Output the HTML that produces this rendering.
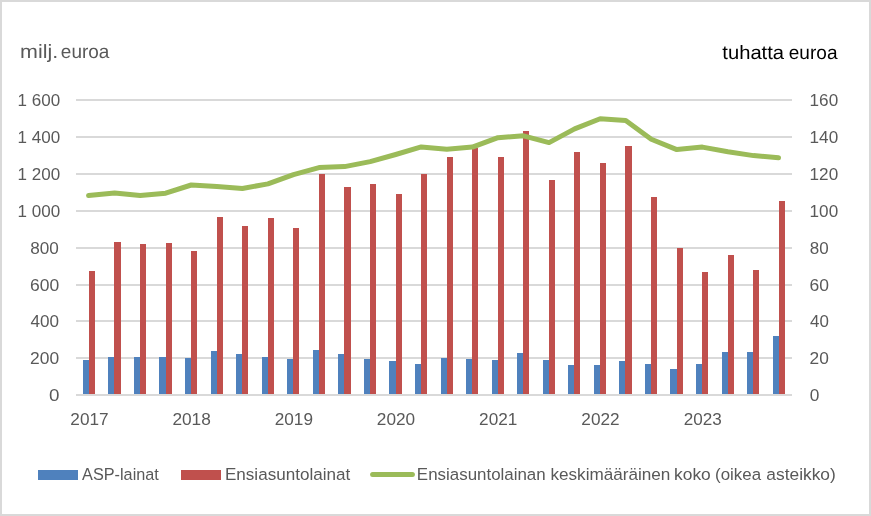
<!DOCTYPE html>
<html lang="fi">
<head>
<meta charset="utf-8">
<title>Ensiasuntolainat</title>
<style>
html,body{margin:0;padding:0;background:#ffffff;}
body{width:871px;height:516px;overflow:hidden;}
svg{display:block;}
text{white-space:pre;}
.u{text-rendering:geometricPrecision;}
</style>
</head>
<body>
<svg width="871" height="516" viewBox="0 0 871 516">
<rect x="0" y="0" width="871" height="516" fill="#ffffff"/>
<rect x="1" y="1" width="869" height="514" fill="none" stroke="#D9D9D9" stroke-width="2" shape-rendering="crispEdges"/>
<g fill="#D9D9D9" shape-rendering="crispEdges">
<rect x="76" y="357" width="716" height="2"/>
<rect x="76" y="320" width="716" height="2"/>
<rect x="76" y="284" width="716" height="2"/>
<rect x="76" y="247" width="716" height="2"/>
<rect x="76" y="210" width="716" height="2"/>
<rect x="76" y="173" width="716" height="2"/>
<rect x="76" y="136" width="716" height="2"/>
<rect x="76" y="99" width="716" height="2"/>
</g>
<g shape-rendering="crispEdges">
<g fill="#4F81BD">
<rect x="83" y="360" width="6" height="34"/>
<rect x="108" y="357" width="6" height="37"/>
<rect x="134" y="357" width="6" height="37"/>
<rect x="159" y="357" width="7" height="37"/>
<rect x="185" y="358" width="6" height="36"/>
<rect x="211" y="351" width="6" height="43"/>
<rect x="236" y="354" width="6" height="40"/>
<rect x="262" y="357" width="6" height="37"/>
<rect x="287" y="359" width="6" height="35"/>
<rect x="313" y="350" width="6" height="44"/>
<rect x="338" y="354" width="6" height="40"/>
<rect x="364" y="359" width="6" height="35"/>
<rect x="389" y="361" width="7" height="33"/>
<rect x="415" y="364" width="6" height="30"/>
<rect x="441" y="358" width="6" height="36"/>
<rect x="466" y="359" width="6" height="35"/>
<rect x="492" y="360" width="6" height="34"/>
<rect x="517" y="353" width="6" height="41"/>
<rect x="543" y="360" width="6" height="34"/>
<rect x="568" y="365" width="6" height="29"/>
<rect x="594" y="365" width="6" height="29"/>
<rect x="619" y="361" width="6" height="33"/>
<rect x="645" y="364" width="6" height="30"/>
<rect x="670" y="369" width="7" height="25"/>
<rect x="696" y="364" width="6" height="30"/>
<rect x="722" y="352" width="6" height="42"/>
<rect x="747" y="352" width="6" height="42"/>
<rect x="773" y="336" width="6" height="58"/>
</g>
<g fill="#C0504D">
<rect x="89" y="271" width="6" height="123"/>
<rect x="114" y="242" width="7" height="152"/>
<rect x="140" y="244" width="6" height="150"/>
<rect x="166" y="243" width="6" height="151"/>
<rect x="191" y="251" width="6" height="143"/>
<rect x="217" y="217" width="6" height="177"/>
<rect x="242" y="226" width="6" height="168"/>
<rect x="268" y="218" width="6" height="176"/>
<rect x="293" y="228" width="6" height="166"/>
<rect x="319" y="174" width="6" height="220"/>
<rect x="344" y="187" width="7" height="207"/>
<rect x="370" y="184" width="6" height="210"/>
<rect x="396" y="194" width="6" height="200"/>
<rect x="421" y="174" width="6" height="220"/>
<rect x="447" y="157" width="6" height="237"/>
<rect x="472" y="148" width="6" height="246"/>
<rect x="498" y="157" width="6" height="237"/>
<rect x="523" y="131" width="6" height="263"/>
<rect x="549" y="180" width="6" height="214"/>
<rect x="574" y="152" width="6" height="242"/>
<rect x="600" y="163" width="6" height="231"/>
<rect x="625" y="146" width="7" height="248"/>
<rect x="651" y="197" width="6" height="197"/>
<rect x="677" y="248" width="6" height="146"/>
<rect x="702" y="272" width="6" height="122"/>
<rect x="728" y="255" width="6" height="139"/>
<rect x="753" y="270" width="6" height="124"/>
<rect x="779" y="201" width="6" height="193"/>
</g>
<rect x="76" y="394" width="716" height="2" fill="#D9D9D9"/>
</g>
<polyline points="88.55,195.60 114.61,193.10 140.16,195.60 165.72,193.20 191.27,185.00 216.83,186.60 242.38,188.50 267.94,183.90 293.49,174.60 319.05,167.60 344.61,166.60 370.16,161.60 395.72,154.50 421.27,146.95 446.83,149.30 472.38,147.10 497.94,137.65 523.49,135.80 549.05,142.60 574.61,128.90 600.16,118.70 625.72,120.55 651.27,139.20 676.83,149.60 702.38,147.10 727.94,151.80 753.49,155.60 778.57,157.80" fill="none" stroke="#9BBB59" stroke-width="5" stroke-linecap="round" stroke-linejoin="round"/>
<g font-family="'Liberation Sans', sans-serif">
<text x="49.02" y="401.30" font-size="16.8" fill="#595959" textLength="10.47" lengthAdjust="spacingAndGlyphs">0</text>
<text x="30.05" y="364.30" font-size="16.8" fill="#595959" textLength="29.07" lengthAdjust="spacingAndGlyphs">200</text>
<text x="30.62" y="327.30" font-size="16.8" fill="#595959" textLength="28.52" lengthAdjust="spacingAndGlyphs">400</text>
<text x="29.98" y="291.30" font-size="16.8" fill="#595959" textLength="29.19" lengthAdjust="spacingAndGlyphs">600</text>
<text x="30.27" y="254.30" font-size="16.8" fill="#595959" textLength="28.63" lengthAdjust="spacingAndGlyphs">800</text>
<text x="17.56" y="217.30" font-size="16.8" fill="#595959" textLength="42.62" lengthAdjust="spacingAndGlyphs">1 000</text>
<text x="17.56" y="180.30" font-size="16.8" fill="#595959" textLength="42.62" lengthAdjust="spacingAndGlyphs">1 200</text>
<text x="17.56" y="143.30" font-size="16.8" fill="#595959" textLength="42.62" lengthAdjust="spacingAndGlyphs">1 400</text>
<text x="17.56" y="106.30" font-size="16.8" fill="#595959" textLength="42.62" lengthAdjust="spacingAndGlyphs">1 600</text>
<text x="809.73" y="401.30" font-size="16.8" fill="#595959" textLength="9.63" lengthAdjust="spacingAndGlyphs">0</text>
<text x="809.62" y="364.30" font-size="16.8" fill="#595959" textLength="19.29" lengthAdjust="spacingAndGlyphs">20</text>
<text x="810.12" y="327.30" font-size="16.8" fill="#595959" textLength="18.84" lengthAdjust="spacingAndGlyphs">40</text>
<text x="809.56" y="291.30" font-size="16.8" fill="#595959" textLength="19.47" lengthAdjust="spacingAndGlyphs">60</text>
<text x="809.83" y="254.30" font-size="16.8" fill="#595959" textLength="18.89" lengthAdjust="spacingAndGlyphs">80</text>
<text x="809.59" y="217.30" font-size="16.8" fill="#595959" textLength="28.58" lengthAdjust="spacingAndGlyphs">100</text>
<text x="809.59" y="180.30" font-size="16.8" fill="#595959" textLength="28.58" lengthAdjust="spacingAndGlyphs">120</text>
<text x="809.59" y="143.30" font-size="16.8" fill="#595959" textLength="28.58" lengthAdjust="spacingAndGlyphs">140</text>
<text x="809.59" y="106.30" font-size="16.8" fill="#595959" textLength="28.58" lengthAdjust="spacingAndGlyphs">160</text>
<text x="70.35" y="425.20" font-size="16.8" fill="#595959" textLength="38.24" lengthAdjust="spacingAndGlyphs">2017</text>
<text x="172.40" y="425.20" font-size="16.8" fill="#595959" textLength="38.44" lengthAdjust="spacingAndGlyphs">2018</text>
<text x="274.74" y="425.20" font-size="16.8" fill="#595959" textLength="38.25" lengthAdjust="spacingAndGlyphs">2019</text>
<text x="376.86" y="425.20" font-size="16.8" fill="#595959" textLength="38.32" lengthAdjust="spacingAndGlyphs">2020</text>
<text x="479.08" y="425.20" font-size="16.8" fill="#595959" textLength="38.25" lengthAdjust="spacingAndGlyphs">2021</text>
<text x="581.36" y="425.20" font-size="16.8" fill="#595959" textLength="38.26" lengthAdjust="spacingAndGlyphs">2022</text>
<text x="683.70" y="425.20" font-size="16.8" fill="#595959" textLength="38.02" lengthAdjust="spacingAndGlyphs">2023</text>
<text class="u" y="57.80" font-size="19.2" fill="#595959"><tspan x="20.09" textLength="38.12" lengthAdjust="spacingAndGlyphs">milj.</tspan> <tspan x="60.85" textLength="48.53" lengthAdjust="spacingAndGlyphs">euroa</tspan></text>
<text class="u" y="58.90" font-size="19.2" fill="#000000"><tspan x="722.34" textLength="61.72" lengthAdjust="spacingAndGlyphs">tuhatta</tspan> <tspan x="788.79" textLength="48.70" lengthAdjust="spacingAndGlyphs">euroa</tspan></text>
<text x="82.09" y="479.70" font-size="16.8" fill="#595959" textLength="76.76" lengthAdjust="spacingAndGlyphs">ASP-lainat</text>
<text x="224.94" y="479.70" font-size="16.8" fill="#595959" textLength="125.36" lengthAdjust="spacingAndGlyphs">Ensiasuntolainat</text>
<text y="479.70" font-size="16.8" fill="#595959"><tspan x="416.88" textLength="128.82" lengthAdjust="spacingAndGlyphs">Ensiasuntolainan</tspan> <tspan x="550.47" textLength="119.92" lengthAdjust="spacingAndGlyphs">keskimääräinen</tspan> <tspan x="674.02" textLength="36.73" lengthAdjust="spacingAndGlyphs">koko</tspan> <tspan x="715.07" textLength="46.02" lengthAdjust="spacingAndGlyphs">(oikea</tspan> <tspan x="766.33" textLength="69.48" lengthAdjust="spacingAndGlyphs">asteikko)</tspan></text>
</g>
<rect x="38" y="470" width="40" height="10" fill="#4F81BD" shape-rendering="crispEdges"/>
<rect x="181" y="470" width="40" height="10" fill="#C0504D" shape-rendering="crispEdges"/>
<line x1="372.6" y1="474.5" x2="412.4" y2="474.5" stroke="#9BBB59" stroke-width="5" stroke-linecap="round"/>
</svg>
</body>
</html>
